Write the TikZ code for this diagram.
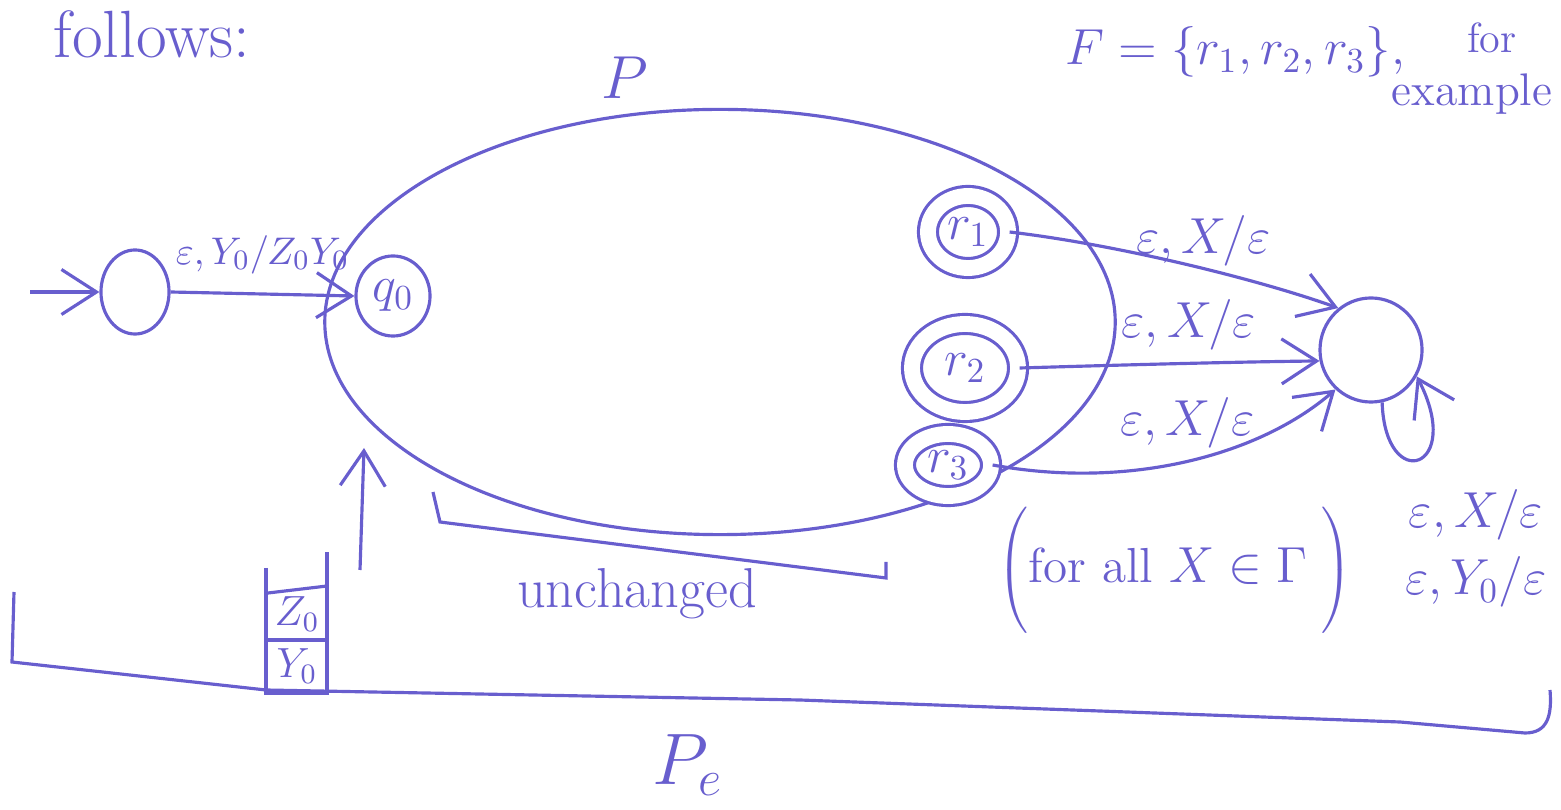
\documentclass[tikz,border=0pt]{standalone}
\usetikzlibrary{arrows.meta,shapes.geometric,calc}
\definecolor{ink}{RGB}{104,94,206}
\begin{document}
\begin{tikzpicture}[x=0.01cm,y=-0.01cm,line width=0.9pt,draw=ink,text=ink,
  st/.style={draw,ellipse,inner sep=0pt},
  acc/.style={st,double,double distance=4.5pt},
  elbl/.style={font=\fontsize{14}{17}\selectfont},
  big/.style={font=\fontsize{19}{23}\selectfont},
  tip/.style={-{Straight Barb[length=3.5mm,width=4.5mm]}}]
\useasboundingbox (0,0) rectangle (1561,810);

% texts at top
\node[big] (follows) at (152,34) {follows:};
\node[big] (Plbl) at (625,78) {$P$};
\node[font=\fontsize{14.5}{17}\selectfont,anchor=west] (Fset) at (1052,52) {$F=\{r_1,r_2,r_3\}$,};
\node[font=\fontsize{12}{14}\selectfont] (forlbl) at (1492,38) {for};
\node[font=\fontsize{13}{16}\selectfont] (exlbl) at (1472,94) {example};

% big ellipse P
\node[draw,ellipse,minimum width=7.9cm,minimum height=4.25cm] (P) at (720,322) {};

% states
\coordinate (init) at (30,292);
\node[st,minimum width=0.68cm,minimum height=0.84cm] (s) at (135,292) {};
\node[st,minimum width=0.74cm,minimum height=0.8cm,elbl] (q0) at (393,296) {$q_0$};
\node[acc,minimum width=0.8cm,minimum height=0.72cm,elbl] (r1) at (968,232) {$r_1$};
\node[acc,minimum width=1.06cm,minimum height=0.88cm,elbl] (r2) at (965,368) {$r_2$};
\node[acc,minimum width=0.86cm,minimum height=0.62cm,elbl] (r3) at (948,465) {$r_3$};
\node[st,minimum width=1.02cm,minimum height=1.04cm] (f) at (1371,350) {};

% edges
\draw[tip] (init) -- (s.west);
\draw[tip] (s.east) -- node[font=\fontsize{11}{13}\selectfont,above=2pt] {$\varepsilon,Y_0/Z_0Y_0$} (q0.west);
\draw[tip] (r1.east) .. controls (1120,245) and (1260,280) .. node[elbl,above=-3pt,pos=0.55] {$\varepsilon,X/\varepsilon$} (f.128);
\draw[tip] (r2.east) .. controls (1120,365) and (1230,362) .. node[elbl,above,pos=0.55] {$\varepsilon,X/\varepsilon$} (f.192);
\draw[tip] (r3.east) .. controls (1130,490) and (1260,455) .. node[elbl,above,pos=0.5] {$\varepsilon,X/\varepsilon$} (f.228);
\draw[tip] (f.282) .. controls (1385,495) and (1465,470) .. (f.330);
\node[elbl] (loop1) at (1476,515) {$\varepsilon,X/\varepsilon$};
\node[elbl] (loop2) at (1476,582) {$\varepsilon,Y_0/\varepsilon$};

% for all
\node[elbl] (forall) at (1175,568) {$\left(\vphantom{\rule{0pt}{0.8cm}}\mbox{for all } X\in\Gamma\;\right)$};

% unchanged bracket
\coordinate (ub1) at (433,492);
\coordinate (ub2) at (440,522);
\coordinate (ub3) at (886,578);
\coordinate (ub4) at (886,562);
\draw (ub1) -- (ub2) -- (ub3) -- (ub4);
\node[font=\fontsize{16}{19}\selectfont] (unch) at (637,594) {unchanged};

% arrow up to P
\coordinate (upb) at (360,570);
\coordinate (upt) at (364,448);
\draw[tip] (upb) -- (upt);

% stack
\coordinate (sk1) at (266,568);
\coordinate (sk2) at (266,693);
\coordinate (sk3) at (327,693);
\coordinate (sk4) at (327,552);
\draw (sk1) -- (sk2) -- (sk3) -- (sk4);
\draw (268,593) -- (327,586);
\draw (268,640) -- (327,640);
\node[font=\fontsize{12}{14}\selectfont] (zcell) at (297,614) {$Z_0$};
\node[font=\fontsize{12}{14}\selectfont] (ycell) at (297,666) {$Y_0$};

% Pe bracket
\coordinate (pb1) at (14,592);
\coordinate (pb2) at (12,662);
\coordinate (pb3) at (1525,733);
\coordinate (pb4) at (1550,690);
\draw (pb1) -- (pb2) -- (266,690) -- (800,700) -- (1400,722) -- (pb3) .. controls (1548,733) and (1552,715) .. (pb4);
\node[font=\fontsize{21}{25}\selectfont] (Pe) at (688,765) {$P_e$};
\end{tikzpicture}
\end{document}
